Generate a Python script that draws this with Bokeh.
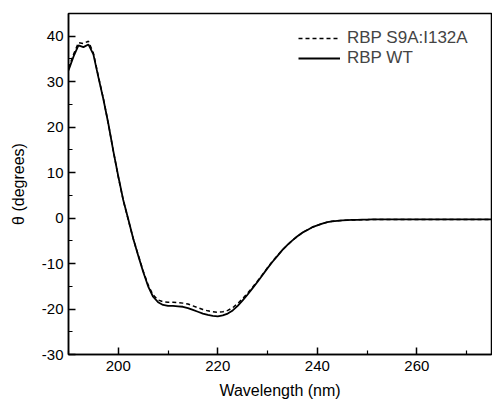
from bokeh.plotting import figure
from bokeh.models import Range1d, FixedTicker, Legend, LegendItem, CustomJSTickFormatter
from bokeh.embed import file_html
from bokeh.resources import INLINE

wavelength = list(range(190, 276))
wt = [32.5, 35.5, 38.0, 37.6, 38.2, 36.0, 31.0, 26.2, 20.8, 14.8,
      9.2, 4.0, -0.2, -4.5, -8.2, -11.8, -15.0, -17.3, -18.5, -19.1,
      -19.3, -19.3, -19.4, -19.5, -19.8, -20.2, -20.6, -21.0, -21.3, -21.5,
      -21.6, -21.4, -21.0, -20.3, -19.3, -18.1, -16.8, -15.4, -14.0, -12.5,
      -11.0, -9.6, -8.3, -7.0, -5.9, -4.9, -4.0, -3.2, -2.6, -2.0,
      -1.6, -1.2, -0.9, -0.7, -0.6, -0.5, -0.45, -0.4, -0.4, -0.35,
      -0.35, -0.3, -0.3, -0.3, -0.3, -0.3, -0.3, -0.3, -0.3, -0.3,
      -0.3, -0.3, -0.3, -0.3, -0.3, -0.3, -0.3, -0.3, -0.3, -0.3,
      -0.3, -0.3, -0.3, -0.3, -0.3, -0.3]
mut = [33.0, 36.0, 38.6, 38.4, 38.9, 36.3, 31.2, 26.3, 20.8, 14.8,
       9.1, 3.9, -0.3, -4.5, -8.1, -11.6, -14.7, -16.9, -18.0, -18.4,
       -18.5, -18.5, -18.6, -18.7, -18.9, -19.3, -19.7, -20.1, -20.4, -20.6,
       -20.7, -20.6, -20.3, -19.7, -18.8, -17.7, -16.5, -15.2, -13.8, -12.4,
       -10.9, -9.5, -8.2, -7.0, -5.9, -4.9, -4.0, -3.2, -2.6, -2.0,
       -1.6, -1.2, -0.9, -0.7, -0.6, -0.5, -0.45, -0.4, -0.4, -0.35,
       -0.35, -0.3, -0.3, -0.3, -0.3, -0.3, -0.3, -0.3, -0.3, -0.3,
       -0.3, -0.3, -0.3, -0.3, -0.3, -0.3, -0.3, -0.3, -0.3, -0.3,
       -0.3, -0.3, -0.3, -0.3, -0.3, -0.3]
series_names = ["RBP S9A:I132A", "RBP WT"]
x_ticks = [200, 220, 240, 260]
x_minor = [190, 210, 230, 250, 270]
y_ticks = [-30, -20, -10, 0, 10, 20, 30, 40]
y_minor = [-25, -15, -5, 5, 15, 25, 35, 45]

FONT = "Liberation Sans"

p = figure(width=492, height=402, output_backend="svg", toolbar_location=None,
           x_range=Range1d(190, 275), y_range=Range1d(-30, 45),
           min_border_left=68, min_border_right=1, min_border_top=13,
           min_border_bottom=48)
p.grid.visible = False
p.outline_line_color = "black"
p.outline_line_width = 1.5
p.background_fill_color = "white"

r_mut = p.line(wavelength, mut, line_color="black", line_width=1.5, line_dash="4 3")
r_wt = p.line(wavelength, wt, line_color="black", line_width=1.8)

for ax, ticks, minor in ((p.xaxis[0], x_ticks, x_minor), (p.yaxis[0], y_ticks, y_minor)):
    ax.ticker = FixedTicker(ticks=ticks, minor_ticks=minor)
    ax.formatter = CustomJSTickFormatter(code="return tick.toFixed(0);")
    ax.major_tick_in = 7
    ax.major_tick_out = 0
    ax.minor_tick_in = 4
    ax.minor_tick_out = 0
    ax.axis_line_width = 1.5
    ax.major_tick_line_width = 1.5
    ax.minor_tick_line_width = 1.2
    ax.major_label_text_font = FONT
    ax.major_label_text_font_size = "15px"
    ax.major_label_text_color = "black"
    ax.axis_label_text_font = FONT
    ax.axis_label_text_font_size = "16px"
    ax.axis_label_text_font_style = "normal"
    ax.axis_label_text_color = "black"

p.xaxis.axis_label = "Wavelength (nm)"
p.yaxis.axis_label = "θ (degrees)"
p.xaxis.major_label_standoff = 6
p.yaxis.major_label_standoff = 5
p.xaxis.axis_label_standoff = 8
p.yaxis.axis_label_standoff = 12

legend = Legend(items=[LegendItem(label=series_names[0], renderers=[r_mut]),
                       LegendItem(label=series_names[1], renderers=[r_wt])],
                location=(230, 286))
legend.border_line_color = None
legend.background_fill_alpha = 0
legend.padding = 0
legend.margin = 0
legend.spacing = 0
legend.glyph_width = 42
legend.glyph_height = 20
legend.label_height = 20
legend.label_standoff = 7
legend.label_text_font = FONT
legend.label_text_font_size = "17px"
p.add_layout(legend)

open("out.html", "w").write(file_html(p, INLINE))
